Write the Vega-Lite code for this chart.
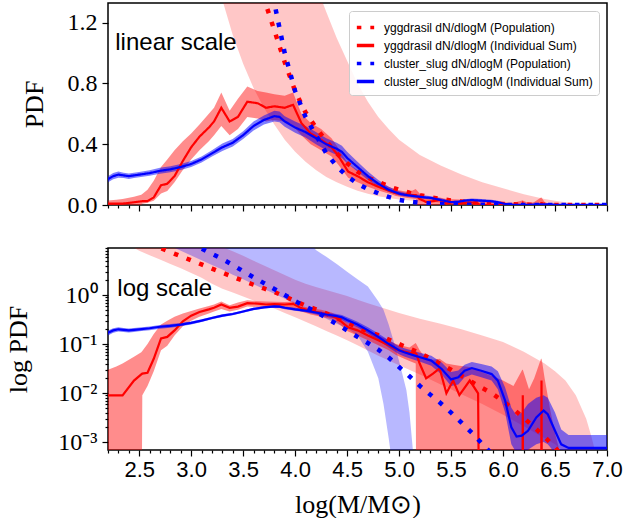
{
"$schema": "https://vega.github.io/schema/vega-lite/v6.json",
"padding": {"left": 5, "top": 2, "right": 5, "bottom": 0},
"config": {"view": {"stroke": "black", "strokeWidth": 1.5}, "axis": {"domain": false, "ticks": true, "grid": false, "tickColor": "black", "tickWidth": 1.2, "tickSize": 6, "labelColor": "black", "titleColor": "black", "titleFontWeight": "normal", "labelOverlap": false, "labelFlush": false, "labelBound": false}, "legend": {"rowPadding": 0, "symbolSize": 300, "symbolStrokeWidth": 3.5, "labelOffset": 8, "labelFontSize": 12, "labelFont": "Liberation Sans"}},
"datasets": {
"rband": [
{"x":2.3,"lo":13,"hi":40},{"x":2.4,"lo":10.5,"hi":40},{"x":2.5,"lo":8.0,"hi":40},{"x":2.6,"lo":6.5,"hi":40},{"x":2.7,"lo":5.3,"hi":40},{"x":2.8,"lo":4.3,"hi":40},{"x":2.9,"lo":3.5,"hi":40},{"x":3.0,"lo":2.8,"hi":20},{"x":3.1,"lo":2.25,"hi":15},{"x":3.2,"lo":1.7,"hi":11.5},{"x":3.3,"lo":1.35,"hi":9.5},{"x":3.4,"lo":1.12,"hi":7.8},{"x":3.5,"lo":0.93,"hi":6.3},{"x":3.6,"lo":0.77,"hi":5.0},{"x":3.7,"lo":0.64,"hi":4.0},{"x":3.8,"lo":0.53,"hi":3.2},{"x":3.9,"lo":0.43,"hi":2.55},{"x":4.0,"lo":0.35,"hi":2.05},{"x":4.1,"lo":0.285,"hi":1.7},{"x":4.2,"lo":0.23,"hi":1.45},{"x":4.3,"lo":0.185,"hi":1.27},{"x":4.4,"lo":0.15,"hi":1.1},{"x":4.5,"lo":0.12,"hi":0.95},{"x":4.6,"lo":0.094,"hi":0.8},{"x":4.7,"lo":0.074,"hi":0.68},{"x":4.8,"lo":0.058,"hi":0.58},{"x":4.9,"lo":0.046,"hi":0.5},{"x":5.0,"lo":0.037,"hi":0.43},{"x":5.2,"lo":0.024,"hi":0.33},{"x":5.4,"lo":0.015,"hi":0.26},{"x":5.6,"lo":0.0095,"hi":0.2},{"x":5.8,"lo":0.006,"hi":0.15},{"x":6.0,"lo":0.0036,"hi":0.11},{"x":6.2,"lo":0.0021,"hi":0.07},{"x":6.4,"lo":0.0012,"hi":0.04},{"x":6.5,"lo":0.0009,"hi":0.028},{"x":6.6,"lo":0.0006,"hi":0.018},{"x":6.7,"lo":0.00042,"hi":0.009},{"x":6.8,"lo":0.0003,"hi":0.003},{"x":6.85,"lo":0.00025,"hi":0.0013},{"x":6.9,"lo":0.0002,"hi":0.0005},{"x":7.0,"lo":0.00014,"hi":0.00015}],
"bband": [
{"x":2.8,"lo":10,"hi":40},{"x":2.9,"lo":8.0,"hi":40},{"x":3.0,"lo":6.4,"hi":40},{"x":3.1,"lo":5.1,"hi":40},{"x":3.2,"lo":4.1,"hi":40},{"x":3.3,"lo":3.3,"hi":40},{"x":3.4,"lo":2.6,"hi":40},{"x":3.5,"lo":2.1,"hi":40},{"x":3.6,"lo":1.65,"hi":40},{"x":3.7,"lo":1.33,"hi":40},{"x":3.8,"lo":1.06,"hi":40},{"x":3.9,"lo":0.84,"hi":40},{"x":4.0,"lo":0.66,"hi":40},{"x":4.1,"lo":0.53,"hi":14},{"x":4.15,"lo":0.47,"hi":11},{"x":4.2,"lo":0.42,"hi":8.3},{"x":4.3,"lo":0.33,"hi":6.0},{"x":4.4,"lo":0.26,"hi":4.3},{"x":4.5,"lo":0.21,"hi":3.0},{"x":4.6,"lo":0.15,"hi":2.1},{"x":4.7,"lo":0.07,"hi":1.5},{"x":4.8,"lo":0.02,"hi":0.75},{"x":4.85,"lo":0.006,"hi":0.5},{"x":4.9,"lo":0.0012,"hi":0.25},{"x":4.95,"lo":0.0002,"hi":0.11},{"x":5.0,"lo":0.000001,"hi":0.045},{"x":5.07,"lo":0.000001,"hi":0.0115},{"x":5.1,"lo":0.000001,"hi":0.004},{"x":5.13,"lo":0.000001,"hi":0.0008},{"x":5.15,"lo":0.000001,"hi":0.0002},{"x":5.17,"lo":0.000001,"hi":0.000002}],
"rsum": [
{"x":2.2,"y":0.009,"lo":0.000001,"hi":0.03},{"x":2.28,"y":0.009,"lo":0.000001,"hi":0.035},{"x":2.34,"y":0.009,"lo":0.000001,"hi":0.04},{"x":2.45,"y":0.018,"lo":0.000001,"hi":0.055},{"x":2.52,"y":0.024,"lo":0.000001,"hi":0.068},{"x":2.53,"y":0.025,"lo":0.009,"hi":0.072},{"x":2.58,"y":0.026,"lo":0.014,"hi":0.1},{"x":2.64,"y":0.05,"lo":0.028,"hi":0.16},{"x":2.71,"y":0.13,"lo":0.075,"hi":0.25},{"x":2.77,"y":0.14,"lo":0.092,"hi":0.3},{"x":2.84,"y":0.19,"lo":0.15,"hi":0.36},{"x":2.92,"y":0.29,"lo":0.23,"hi":0.42},{"x":3.0,"y":0.38,"lo":0.3,"hi":0.47},{"x":3.08,"y":0.45,"lo":0.36,"hi":0.53},{"x":3.17,"y":0.51,"lo":0.42,"hi":0.6},{"x":3.22,"y":0.55,"lo":0.46,"hi":0.64},{"x":3.29,"y":0.64,"lo":0.52,"hi":0.74},{"x":3.37,"y":0.55,"lo":0.46,"hi":0.62},{"x":3.45,"y":0.58,"lo":0.5,"hi":0.7},{"x":3.54,"y":0.68,"lo":0.58,"hi":0.78},{"x":3.64,"y":0.67,"lo":0.57,"hi":0.75},{"x":3.72,"y":0.64,"lo":0.55,"hi":0.74},{"x":3.8,"y":0.65,"lo":0.56,"hi":0.73},{"x":3.9,"y":0.64,"lo":0.55,"hi":0.72},{"x":3.98,"y":0.66,"lo":0.52,"hi":0.74},{"x":4.06,"y":0.54,"lo":0.46,"hi":0.6},{"x":4.15,"y":0.47,"lo":0.4,"hi":0.54},{"x":4.25,"y":0.43,"lo":0.36,"hi":0.5},{"x":4.35,"y":0.38,"lo":0.32,"hi":0.44},{"x":4.41,"y":0.33,"lo":0.27,"hi":0.38},{"x":4.51,"y":0.22,"lo":0.18,"hi":0.27},{"x":4.6,"y":0.19,"lo":0.15,"hi":0.23},{"x":4.7,"y":0.15,"lo":0.12,"hi":0.19},{"x":4.8,"y":0.12,"lo":0.095,"hi":0.15},{"x":4.9,"y":0.095,"lo":0.075,"hi":0.12},{"x":4.97,"y":0.078,"lo":0.06,"hi":0.1},{"x":5.05,"y":0.07,"lo":0.05,"hi":0.09},{"x":5.1,"y":0.066,"lo":0.045,"hi":0.085},{"x":5.16,"y":0.065,"lo":0.04,"hi":0.105},{"x":5.166,"y":0.063,"lo":0.000001,"hi":0.1},{"x":5.198,"y":0.04,"lo":0.000001,"hi":0.075},{"x":5.26,"y":0.02,"lo":0.000001,"hi":0.05},{"x":5.326,"y":0.025,"lo":0.000001,"hi":0.048},{"x":5.39,"y":0.032,"lo":0.000001,"hi":0.05},{"x":5.455,"y":0.0099,"lo":0.000001,"hi":0.04},{"x":5.52,"y":0.018,"lo":0.000001,"hi":0.038},{"x":5.58,"y":0.0091,"lo":0.000001,"hi":0.036},{"x":5.68,"y":0.018,"lo":0.000001,"hi":0.034},{"x":5.76,"y":0.0099,"lo":0.000001,"hi":0.03},{"x":5.775,"y":0.000001,"lo":0.000001,"hi":0.028},{"x":5.9,"y":0.000001,"lo":0.000001,"hi":0.022},{"x":6.0,"y":0.000001,"lo":0.000001,"hi":0.018},{"x":6.1,"y":0.000001,"lo":0.000001,"hi":0.014},{"x":6.185,"y":0.000001,"lo":0.000001,"hi":0.03},{"x":6.19,"y":0.009,"lo":0.000001,"hi":0.03},{"x":6.195,"y":0.000001,"lo":0.000001,"hi":0.028},{"x":6.25,"y":0.000001,"lo":0.000001,"hi":0.012},{"x":6.3,"y":0.000001,"lo":0.000001,"hi":0.02},{"x":6.365,"y":0.000001,"lo":0.000001,"hi":0.05},{"x":6.37,"y":0.018,"lo":0.000001,"hi":0.05},{"x":6.375,"y":0.000001,"lo":0.000001,"hi":0.045},{"x":6.4,"y":0.000001,"lo":0.000001,"hi":0.02},{"x":6.45,"y":0.000001,"lo":0.000001,"hi":0.005},{"x":6.5,"y":0.000001,"lo":0.000001,"hi":0.0015},{"x":6.55,"y":0.000001,"lo":0.000001,"hi":0.0006},{"x":6.6,"y":0.000001,"lo":0.000001,"hi":0.000001},{"x":7.0,"y":0.000001,"lo":0.000001,"hi":0.000001}],
"bsum": [
{"x":2.2,"y":0.17,"lo":0.15,"hi":0.19},{"x":2.25,"y":0.19,"lo":0.17,"hi":0.21},{"x":2.3,"y":0.2,"lo":0.18,"hi":0.22},{"x":2.35,"y":0.195,"lo":0.177,"hi":0.213},{"x":2.4,"y":0.19,"lo":0.172,"hi":0.208},{"x":2.45,"y":0.195,"lo":0.177,"hi":0.213},{"x":2.5,"y":0.2,"lo":0.182,"hi":0.218},{"x":2.6,"y":0.21,"lo":0.192,"hi":0.228},{"x":2.7,"y":0.225,"lo":0.205,"hi":0.245},{"x":2.8,"y":0.235,"lo":0.215,"hi":0.255},{"x":2.9,"y":0.25,"lo":0.23,"hi":0.27},{"x":3.0,"y":0.27,"lo":0.25,"hi":0.29},{"x":3.1,"y":0.3,"lo":0.28,"hi":0.32},{"x":3.2,"y":0.34,"lo":0.32,"hi":0.36},{"x":3.3,"y":0.38,"lo":0.355,"hi":0.405},{"x":3.4,"y":0.41,"lo":0.385,"hi":0.435},{"x":3.5,"y":0.46,"lo":0.435,"hi":0.485},{"x":3.6,"y":0.52,"lo":0.49,"hi":0.55},{"x":3.7,"y":0.56,"lo":0.53,"hi":0.59},{"x":3.8,"y":0.585,"lo":0.55,"hi":0.62},{"x":3.85,"y":0.58,"lo":0.545,"hi":0.615},{"x":3.9,"y":0.55,"lo":0.515,"hi":0.585},{"x":4.0,"y":0.51,"lo":0.475,"hi":0.55},{"x":4.1,"y":0.48,"lo":0.445,"hi":0.52},{"x":4.2,"y":0.44,"lo":0.4,"hi":0.48},{"x":4.3,"y":0.4,"lo":0.36,"hi":0.44},{"x":4.4,"y":0.37,"lo":0.33,"hi":0.41},{"x":4.45,"y":0.35,"lo":0.31,"hi":0.39},{"x":4.5,"y":0.31,"lo":0.275,"hi":0.35},{"x":4.6,"y":0.25,"lo":0.22,"hi":0.285},{"x":4.7,"y":0.19,"lo":0.165,"hi":0.22},{"x":4.8,"y":0.14,"lo":0.12,"hi":0.165},{"x":4.9,"y":0.1,"lo":0.085,"hi":0.12},{"x":5.0,"y":0.075,"lo":0.062,"hi":0.09},{"x":5.05,"y":0.068,"lo":0.056,"hi":0.082},{"x":5.15,"y":0.058,"lo":0.047,"hi":0.071},{"x":5.21,"y":0.053,"lo":0.043,"hi":0.066},{"x":5.31,"y":0.046,"lo":0.036,"hi":0.058},{"x":5.41,"y":0.031,"lo":0.024,"hi":0.042},{"x":5.5,"y":0.019,"lo":0.014,"hi":0.027},{"x":5.57,"y":0.021,"lo":0.015,"hi":0.029},{"x":5.63,"y":0.0286,"lo":0.021,"hi":0.038},{"x":5.7,"y":0.0324,"lo":0.024,"hi":0.043},{"x":5.79,"y":0.0286,"lo":0.021,"hi":0.039},{"x":5.89,"y":0.0244,"lo":0.018,"hi":0.035},{"x":5.95,"y":0.0179,"lo":0.012,"hi":0.028},{"x":6.02,"y":0.007,"lo":0.004,"hi":0.013},{"x":6.08,"y":0.002,"lo":0.0009,"hi":0.005},{"x":6.13,"y":0.0013,"lo":0.0006,"hi":0.0035},{"x":6.18,"y":0.00135,"lo":0.0006,"hi":0.004},{"x":6.24,"y":0.0017,"lo":0.0007,"hi":0.006},{"x":6.32,"y":0.0032,"lo":0.0009,"hi":0.008},{"x":6.39,"y":0.0044,"lo":0.001,"hi":0.009},{"x":6.43,"y":0.0037,"lo":0.0009,"hi":0.008},{"x":6.5,"y":0.0017,"lo":0.0006,"hi":0.004},{"x":6.56,"y":0.0009,"lo":0.0005,"hi":0.0018},{"x":6.63,"y":0.00076,"lo":0.0005,"hi":0.0014},{"x":6.8,"y":0.00076,"lo":0.0005,"hi":0.0014},{"x":7.0,"y":0.00076,"lo":0.0005,"hi":0.0014}],
"rpop": [
{"x":2.6,"y":12},{"x":2.7,"y":9.2},{"x":2.8,"y":7.5},{"x":2.9,"y":6.2},{"x":3.0,"y":5.1},{"x":3.1,"y":4.2},{"x":3.2,"y":3.45},{"x":3.3,"y":2.85},{"x":3.4,"y":2.35},{"x":3.5,"y":1.95},{"x":3.6,"y":1.62},{"x":3.7,"y":1.36},{"x":3.8,"y":1.15},{"x":3.9,"y":0.94},{"x":4.0,"y":0.75},{"x":4.1,"y":0.61},{"x":4.2,"y":0.51},{"x":4.3,"y":0.42},{"x":4.4,"y":0.34},{"x":4.5,"y":0.275},{"x":4.6,"y":0.22},{"x":4.7,"y":0.18},{"x":4.8,"y":0.152},{"x":4.9,"y":0.123},{"x":5.0,"y":0.1},{"x":5.1,"y":0.081},{"x":5.2,"y":0.065},{"x":5.3,"y":0.051},{"x":5.4,"y":0.039},{"x":5.5,"y":0.03},{"x":5.6,"y":0.0225},{"x":5.7,"y":0.0168},{"x":5.8,"y":0.0127},{"x":5.9,"y":0.0097},{"x":6.0,"y":0.0068},{"x":6.1,"y":0.0047},{"x":6.2,"y":0.0031},{"x":6.3,"y":0.002},{"x":6.4,"y":0.00128},{"x":6.5,"y":0.00078},{"x":6.6,"y":0.00045},{"x":6.7,"y":0.00025},{"x":6.8,"y":0.00013},{"x":6.9,"y":0.00007},{"x":7.0,"y":0.00004}],
"bpop": [
{"x":3.0,"y":13},{"x":3.1,"y":8.9},{"x":3.2,"y":6.9},{"x":3.3,"y":5.4},{"x":3.4,"y":4.1},{"x":3.5,"y":3.05},{"x":3.6,"y":2.3},{"x":3.7,"y":1.75},{"x":3.8,"y":1.33},{"x":3.9,"y":1.0},{"x":4.0,"y":0.75},{"x":4.1,"y":0.58},{"x":4.2,"y":0.46},{"x":4.3,"y":0.34},{"x":4.4,"y":0.255},{"x":4.5,"y":0.19},{"x":4.6,"y":0.14},{"x":4.7,"y":0.105},{"x":4.8,"y":0.077},{"x":4.9,"y":0.053},{"x":5.0,"y":0.034},{"x":5.1,"y":0.022},{"x":5.2,"y":0.014},{"x":5.3,"y":0.0093},{"x":5.4,"y":0.0062},{"x":5.5,"y":0.004},{"x":5.6,"y":0.0025},{"x":5.7,"y":0.00155},{"x":5.8,"y":0.00092},{"x":5.9,"y":0.00055},{"x":6.0,"y":0.0003},{"x":6.2,"y":0.0001},{"x":6.5,"y":0.00003},{"x":7.0,"y":0.00001}],
"notes": [{"panel": "linear", "label": "linear scale"}, {"panel": "log", "label": "log scale"}]
},
"spacing": 17,
"resolve": {"scale": {"x": "independent", "y": "independent", "color": "independent", "strokeDash": "independent"}, "legend": {"color": "independent", "strokeDash": "independent"}},
"vconcat": [
{
"width": 499, "height": 202,
"layer": [
{"data": {"name": "rband"}, "mark": {"type": "area", "color": "#ff0000", "opacity": 0.22, "clip": true}, "encoding": {"x": {"field": "x", "type": "quantitative", "title": null, "scale": {"domain": [2.2, 7.0], "nice": false, "zero": false}, "axis": {"values": [2.2,2.3,2.4,2.5,2.6,2.7,2.8,2.9,3.0,3.1,3.2,3.3,3.4,3.5,3.6,3.7,3.8,3.9,4.0,4.1,4.2,4.3,4.4,4.5,4.6,4.7,4.8,4.9,5.0,5.1,5.2,5.3,5.4,5.5,5.6,5.7,5.8,5.9,6.0,6.1,6.2,6.3,6.4,6.5,6.6,6.7,6.8,6.9,7.0], "labels": false, "title": null, "tickDash": {"condition": {"test": "abs(datum.value*2 - round(datum.value*2)) < 0.01", "value": [10, 0]}, "value": [3, 20]}}}, "y": {"field": "lo", "type": "quantitative", "title": "PDF", "scale": {"domain": [0, 1.33], "nice": false, "zero": false}, "axis": {"values": [0,0.1,0.2,0.3,0.4,0.5,0.6,0.7,0.8,0.9,1.0,1.1,1.2,1.3], "labelExpr": "abs(datum.value/0.4 - round(datum.value/0.4)) < 0.01 ? format(datum.value, '.1f') : ''", "labelFont": "Liberation Serif", "labelFontSize": 24, "labelPadding": 5, "titleFont": "Liberation Serif", "titleFontSize": 26, "titlePadding": 20, "tickDash": {"condition": {"test": "abs(datum.value/0.4 - round(datum.value/0.4)) < 0.01", "value": [10, 0]}, "value": [3, 20]}}}, "y2": {"field": "hi"}}},
{"data": {"name": "rsum"}, "mark": {"type": "area", "color": "#ff0000", "opacity": 0.45, "clip": true}, "encoding": {"x": {"field": "x", "type": "quantitative", "title": null, "scale": {"domain": [2.2, 7.0], "nice": false, "zero": false}, "axis": {"values": [2.2,2.3,2.4,2.5,2.6,2.7,2.8,2.9,3.0,3.1,3.2,3.3,3.4,3.5,3.6,3.7,3.8,3.9,4.0,4.1,4.2,4.3,4.4,4.5,4.6,4.7,4.8,4.9,5.0,5.1,5.2,5.3,5.4,5.5,5.6,5.7,5.8,5.9,6.0,6.1,6.2,6.3,6.4,6.5,6.6,6.7,6.8,6.9,7.0], "labels": false, "title": null, "tickDash": {"condition": {"test": "abs(datum.value*2 - round(datum.value*2)) < 0.01", "value": [10, 0]}, "value": [3, 20]}}}, "y": {"field": "lo", "type": "quantitative", "title": "PDF"}, "y2": {"field": "hi"}}},
{"data": {"name": "bsum"}, "mark": {"type": "area", "color": "#0000ff", "opacity": 0.5, "clip": true}, "encoding": {"x": {"field": "x", "type": "quantitative", "title": null, "scale": {"domain": [2.2, 7.0], "nice": false, "zero": false}, "axis": {"values": [2.2,2.3,2.4,2.5,2.6,2.7,2.8,2.9,3.0,3.1,3.2,3.3,3.4,3.5,3.6,3.7,3.8,3.9,4.0,4.1,4.2,4.3,4.4,4.5,4.6,4.7,4.8,4.9,5.0,5.1,5.2,5.3,5.4,5.5,5.6,5.7,5.8,5.9,6.0,6.1,6.2,6.3,6.4,6.5,6.6,6.7,6.8,6.9,7.0], "labels": false, "title": null, "tickDash": {"condition": {"test": "abs(datum.value*2 - round(datum.value*2)) < 0.01", "value": [10, 0]}, "value": [3, 20]}}}, "y": {"field": "lo", "type": "quantitative", "title": "PDF"}, "y2": {"field": "hi"}}},
{"data": {"name": "rsum"}, "mark": {"type": "line", "strokeWidth": 2.2, "clip": true}, "encoding": {"x": {"field": "x", "type": "quantitative", "title": null, "scale": {"domain": [2.2, 7.0], "nice": false, "zero": false}, "axis": {"values": [2.2,2.3,2.4,2.5,2.6,2.7,2.8,2.9,3.0,3.1,3.2,3.3,3.4,3.5,3.6,3.7,3.8,3.9,4.0,4.1,4.2,4.3,4.4,4.5,4.6,4.7,4.8,4.9,5.0,5.1,5.2,5.3,5.4,5.5,5.6,5.7,5.8,5.9,6.0,6.1,6.2,6.3,6.4,6.5,6.6,6.7,6.8,6.9,7.0], "labels": false, "title": null, "tickDash": {"condition": {"test": "abs(datum.value*2 - round(datum.value*2)) < 0.01", "value": [10, 0]}, "value": [3, 20]}}}, "y": {"field": "y", "type": "quantitative", "title": "PDF"}, "color": {"datum": "yggdrasil dN/dlogM (Individual Sum)", "scale": {"domain": ["yggdrasil dN/dlogM (Population)", "yggdrasil dN/dlogM (Individual Sum)", "cluster_slug dN/dlogM (Population)", "cluster_slug dN/dlogM (Individual Sum)"], "range": ["#ff0000", "#ff0000", "#0000ff", "#0000ff"]}, "legend": {"orient": "top-right", "title": null, "offset": 8, "labelLimit": 400, "labelColor": "black", "fillColor": "rgba(255,255,255,0.85)", "strokeColor": "#cccccc", "padding": 6, "cornerRadius": 3}}, "strokeDash": {"datum": "yggdrasil dN/dlogM (Individual Sum)", "scale": {"domain": ["yggdrasil dN/dlogM (Population)", "yggdrasil dN/dlogM (Individual Sum)", "cluster_slug dN/dlogM (Population)", "cluster_slug dN/dlogM (Individual Sum)"], "range": [[4.5, 9], [1, 0], [4.5, 9], [1, 0]]}, "legend": {"orient": "top-right", "title": null, "offset": 8, "labelLimit": 400, "labelColor": "black", "fillColor": "rgba(255,255,255,0.85)", "strokeColor": "#cccccc", "padding": 6, "cornerRadius": 3}}}},
{"data": {"name": "rpop"}, "mark": {"type": "line", "strokeWidth": 4.5, "clip": true}, "encoding": {"x": {"field": "x", "type": "quantitative", "title": null, "scale": {"domain": [2.2, 7.0], "nice": false, "zero": false}, "axis": {"values": [2.2,2.3,2.4,2.5,2.6,2.7,2.8,2.9,3.0,3.1,3.2,3.3,3.4,3.5,3.6,3.7,3.8,3.9,4.0,4.1,4.2,4.3,4.4,4.5,4.6,4.7,4.8,4.9,5.0,5.1,5.2,5.3,5.4,5.5,5.6,5.7,5.8,5.9,6.0,6.1,6.2,6.3,6.4,6.5,6.6,6.7,6.8,6.9,7.0], "labels": false, "title": null, "tickDash": {"condition": {"test": "abs(datum.value*2 - round(datum.value*2)) < 0.01", "value": [10, 0]}, "value": [3, 20]}}}, "y": {"field": "y", "type": "quantitative", "title": "PDF"}, "color": {"datum": "yggdrasil dN/dlogM (Population)"}, "strokeDash": {"datum": "yggdrasil dN/dlogM (Population)"}}},
{"data": {"name": "bsum"}, "mark": {"type": "line", "strokeWidth": 2.2, "clip": true}, "encoding": {"x": {"field": "x", "type": "quantitative", "title": null, "scale": {"domain": [2.2, 7.0], "nice": false, "zero": false}, "axis": {"values": [2.2,2.3,2.4,2.5,2.6,2.7,2.8,2.9,3.0,3.1,3.2,3.3,3.4,3.5,3.6,3.7,3.8,3.9,4.0,4.1,4.2,4.3,4.4,4.5,4.6,4.7,4.8,4.9,5.0,5.1,5.2,5.3,5.4,5.5,5.6,5.7,5.8,5.9,6.0,6.1,6.2,6.3,6.4,6.5,6.6,6.7,6.8,6.9,7.0], "labels": false, "title": null, "tickDash": {"condition": {"test": "abs(datum.value*2 - round(datum.value*2)) < 0.01", "value": [10, 0]}, "value": [3, 20]}}}, "y": {"field": "y", "type": "quantitative", "title": "PDF"}, "color": {"datum": "cluster_slug dN/dlogM (Individual Sum)"}, "strokeDash": {"datum": "cluster_slug dN/dlogM (Individual Sum)"}}},
{"data": {"name": "bpop"}, "mark": {"type": "line", "strokeWidth": 4.5, "clip": true}, "encoding": {"x": {"field": "x", "type": "quantitative", "title": null, "scale": {"domain": [2.2, 7.0], "nice": false, "zero": false}, "axis": {"values": [2.2,2.3,2.4,2.5,2.6,2.7,2.8,2.9,3.0,3.1,3.2,3.3,3.4,3.5,3.6,3.7,3.8,3.9,4.0,4.1,4.2,4.3,4.4,4.5,4.6,4.7,4.8,4.9,5.0,5.1,5.2,5.3,5.4,5.5,5.6,5.7,5.8,5.9,6.0,6.1,6.2,6.3,6.4,6.5,6.6,6.7,6.8,6.9,7.0], "labels": false, "title": null, "tickDash": {"condition": {"test": "abs(datum.value*2 - round(datum.value*2)) < 0.01", "value": [10, 0]}, "value": [3, 20]}}}, "y": {"field": "y", "type": "quantitative", "title": "PDF"}, "color": {"datum": "cluster_slug dN/dlogM (Population)"}, "strokeDash": {"datum": "cluster_slug dN/dlogM (Population)"}}},
{"data": {"name": "notes"}, "transform": [{"filter": "datum.panel == 'linear'"}], "mark": {"type": "text", "align": "left", "baseline": "alphabetic", "font": "Liberation Sans", "fontSize": 24, "color": "black"}, "encoding": {"x": {"datum": 2.27, "type": "quantitative", "title": null, "scale": {"domain": [2.2, 7.0], "nice": false, "zero": false}, "axis": {"values": [2.2,2.3,2.4,2.5,2.6,2.7,2.8,2.9,3.0,3.1,3.2,3.3,3.4,3.5,3.6,3.7,3.8,3.9,4.0,4.1,4.2,4.3,4.4,4.5,4.6,4.7,4.8,4.9,5.0,5.1,5.2,5.3,5.4,5.5,5.6,5.7,5.8,5.9,6.0,6.1,6.2,6.3,6.4,6.5,6.6,6.7,6.8,6.9,7.0], "labels": false, "title": null, "tickDash": {"condition": {"test": "abs(datum.value*2 - round(datum.value*2)) < 0.01", "value": [10, 0]}, "value": [3, 20]}}}, "y": {"datum": 1.02, "type": "quantitative", "title": "PDF"}, "text": {"field": "label"}}}
]
},
{
"width": 499, "height": 202,
"layer": [
{"data": {"name": "rband"}, "mark": {"type": "area", "color": "#ff0000", "opacity": 0.22, "clip": true}, "encoding": {"x": {"field": "x", "type": "quantitative", "title": "log(M/M⊙)", "scale": {"domain": [2.2, 7.0], "nice": false, "zero": false}, "axis": {"values": [2.2,2.3,2.4,2.5,2.6,2.7,2.8,2.9,3.0,3.1,3.2,3.3,3.4,3.5,3.6,3.7,3.8,3.9,4.0,4.1,4.2,4.3,4.4,4.5,4.6,4.7,4.8,4.9,5.0,5.1,5.2,5.3,5.4,5.5,5.6,5.7,5.8,5.9,6.0,6.1,6.2,6.3,6.4,6.5,6.6,6.7,6.8,6.9,7.0], "labelExpr": "abs(datum.value*2 - round(datum.value*2)) < 0.01 ? format(datum.value, '.1f') : ''", "labelFont": "Liberation Sans", "labelFontSize": 22, "labelPadding": 3, "titleFont": "Liberation Serif", "titleFontSize": 26, "titlePadding": 11, "tickDash": {"condition": {"test": "abs(datum.value*2 - round(datum.value*2)) < 0.01", "value": [10, 0]}, "value": [3, 20]}}}, "y": {"field": "lo", "type": "quantitative", "title": "log PDF", "scale": {"type": "log", "domain": [0.00069, 9.1], "nice": false}, "axis": {"values": [0.001,0.002,0.003,0.004,0.005,0.006,0.007,0.008,0.009,0.01,0.02,0.03,0.04,0.05,0.06,0.07,0.08,0.09,0.1,0.2,0.3,0.4,0.5,0.6,0.7,0.8,0.9,1,2,3,4,5,6,7,8,9], "labelExpr": "datum.value == 1 ? '10⁰' : datum.value == 0.1 ? '10⁻¹' : datum.value == 0.01 ? '10⁻²' : datum.value == 0.001 ? '10⁻³' : ''", "labelFont": "Liberation Serif", "labelFontSize": 24, "labelPadding": 5, "titleFont": "Liberation Serif", "titleFontSize": 26, "titlePadding": 26, "tickDash": {"condition": {"test": "indexof([1, 0.1, 0.01, 0.001], datum.value) >= 0", "value": [10, 0]}, "value": [3, 20]}}}, "y2": {"field": "hi"}}},
{"data": {"name": "bband"}, "mark": {"type": "area", "color": "#0000ff", "opacity": 0.28, "clip": true}, "encoding": {"x": {"field": "x", "type": "quantitative", "title": "log(M/M⊙)", "scale": {"domain": [2.2, 7.0], "nice": false, "zero": false}, "axis": {"values": [2.2,2.3,2.4,2.5,2.6,2.7,2.8,2.9,3.0,3.1,3.2,3.3,3.4,3.5,3.6,3.7,3.8,3.9,4.0,4.1,4.2,4.3,4.4,4.5,4.6,4.7,4.8,4.9,5.0,5.1,5.2,5.3,5.4,5.5,5.6,5.7,5.8,5.9,6.0,6.1,6.2,6.3,6.4,6.5,6.6,6.7,6.8,6.9,7.0], "labelExpr": "abs(datum.value*2 - round(datum.value*2)) < 0.01 ? format(datum.value, '.1f') : ''", "labelFont": "Liberation Sans", "labelFontSize": 22, "labelPadding": 3, "titleFont": "Liberation Serif", "titleFontSize": 26, "titlePadding": 11, "tickDash": {"condition": {"test": "abs(datum.value*2 - round(datum.value*2)) < 0.01", "value": [10, 0]}, "value": [3, 20]}}}, "y": {"field": "lo", "type": "quantitative", "title": "log PDF"}, "y2": {"field": "hi"}}},
{"data": {"name": "rsum"}, "mark": {"type": "area", "color": "#ff0000", "opacity": 0.45, "clip": true}, "encoding": {"x": {"field": "x", "type": "quantitative", "title": "log(M/M⊙)", "scale": {"domain": [2.2, 7.0], "nice": false, "zero": false}, "axis": {"values": [2.2,2.3,2.4,2.5,2.6,2.7,2.8,2.9,3.0,3.1,3.2,3.3,3.4,3.5,3.6,3.7,3.8,3.9,4.0,4.1,4.2,4.3,4.4,4.5,4.6,4.7,4.8,4.9,5.0,5.1,5.2,5.3,5.4,5.5,5.6,5.7,5.8,5.9,6.0,6.1,6.2,6.3,6.4,6.5,6.6,6.7,6.8,6.9,7.0], "labelExpr": "abs(datum.value*2 - round(datum.value*2)) < 0.01 ? format(datum.value, '.1f') : ''", "labelFont": "Liberation Sans", "labelFontSize": 22, "labelPadding": 3, "titleFont": "Liberation Serif", "titleFontSize": 26, "titlePadding": 11, "tickDash": {"condition": {"test": "abs(datum.value*2 - round(datum.value*2)) < 0.01", "value": [10, 0]}, "value": [3, 20]}}}, "y": {"field": "lo", "type": "quantitative", "title": "log PDF"}, "y2": {"field": "hi"}}},
{"data": {"name": "bsum"}, "mark": {"type": "area", "color": "#0000ff", "opacity": 0.5, "clip": true}, "encoding": {"x": {"field": "x", "type": "quantitative", "title": "log(M/M⊙)", "scale": {"domain": [2.2, 7.0], "nice": false, "zero": false}, "axis": {"values": [2.2,2.3,2.4,2.5,2.6,2.7,2.8,2.9,3.0,3.1,3.2,3.3,3.4,3.5,3.6,3.7,3.8,3.9,4.0,4.1,4.2,4.3,4.4,4.5,4.6,4.7,4.8,4.9,5.0,5.1,5.2,5.3,5.4,5.5,5.6,5.7,5.8,5.9,6.0,6.1,6.2,6.3,6.4,6.5,6.6,6.7,6.8,6.9,7.0], "labelExpr": "abs(datum.value*2 - round(datum.value*2)) < 0.01 ? format(datum.value, '.1f') : ''", "labelFont": "Liberation Sans", "labelFontSize": 22, "labelPadding": 3, "titleFont": "Liberation Serif", "titleFontSize": 26, "titlePadding": 11, "tickDash": {"condition": {"test": "abs(datum.value*2 - round(datum.value*2)) < 0.01", "value": [10, 0]}, "value": [3, 20]}}}, "y": {"field": "lo", "type": "quantitative", "title": "log PDF"}, "y2": {"field": "hi"}}},
{"data": {"name": "rsum"}, "mark": {"type": "line", "color": "#ff0000", "strokeWidth": 2.2, "clip": true}, "encoding": {"x": {"field": "x", "type": "quantitative", "title": "log(M/M⊙)", "scale": {"domain": [2.2, 7.0], "nice": false, "zero": false}, "axis": {"values": [2.2,2.3,2.4,2.5,2.6,2.7,2.8,2.9,3.0,3.1,3.2,3.3,3.4,3.5,3.6,3.7,3.8,3.9,4.0,4.1,4.2,4.3,4.4,4.5,4.6,4.7,4.8,4.9,5.0,5.1,5.2,5.3,5.4,5.5,5.6,5.7,5.8,5.9,6.0,6.1,6.2,6.3,6.4,6.5,6.6,6.7,6.8,6.9,7.0], "labelExpr": "abs(datum.value*2 - round(datum.value*2)) < 0.01 ? format(datum.value, '.1f') : ''", "labelFont": "Liberation Sans", "labelFontSize": 22, "labelPadding": 3, "titleFont": "Liberation Serif", "titleFontSize": 26, "titlePadding": 11, "tickDash": {"condition": {"test": "abs(datum.value*2 - round(datum.value*2)) < 0.01", "value": [10, 0]}, "value": [3, 20]}}}, "y": {"field": "y", "type": "quantitative", "title": "log PDF"}}},
{"data": {"name": "rpop"}, "mark": {"type": "line", "color": "#ff0000", "strokeWidth": 4.5, "strokeDash": [4.5, 9], "clip": true}, "encoding": {"x": {"field": "x", "type": "quantitative", "title": "log(M/M⊙)", "scale": {"domain": [2.2, 7.0], "nice": false, "zero": false}, "axis": {"values": [2.2,2.3,2.4,2.5,2.6,2.7,2.8,2.9,3.0,3.1,3.2,3.3,3.4,3.5,3.6,3.7,3.8,3.9,4.0,4.1,4.2,4.3,4.4,4.5,4.6,4.7,4.8,4.9,5.0,5.1,5.2,5.3,5.4,5.5,5.6,5.7,5.8,5.9,6.0,6.1,6.2,6.3,6.4,6.5,6.6,6.7,6.8,6.9,7.0], "labelExpr": "abs(datum.value*2 - round(datum.value*2)) < 0.01 ? format(datum.value, '.1f') : ''", "labelFont": "Liberation Sans", "labelFontSize": 22, "labelPadding": 3, "titleFont": "Liberation Serif", "titleFontSize": 26, "titlePadding": 11, "tickDash": {"condition": {"test": "abs(datum.value*2 - round(datum.value*2)) < 0.01", "value": [10, 0]}, "value": [3, 20]}}}, "y": {"field": "y", "type": "quantitative", "title": "log PDF"}}},
{"data": {"name": "bsum"}, "mark": {"type": "line", "color": "#0000ff", "strokeWidth": 2.2, "clip": true}, "encoding": {"x": {"field": "x", "type": "quantitative", "title": "log(M/M⊙)", "scale": {"domain": [2.2, 7.0], "nice": false, "zero": false}, "axis": {"values": [2.2,2.3,2.4,2.5,2.6,2.7,2.8,2.9,3.0,3.1,3.2,3.3,3.4,3.5,3.6,3.7,3.8,3.9,4.0,4.1,4.2,4.3,4.4,4.5,4.6,4.7,4.8,4.9,5.0,5.1,5.2,5.3,5.4,5.5,5.6,5.7,5.8,5.9,6.0,6.1,6.2,6.3,6.4,6.5,6.6,6.7,6.8,6.9,7.0], "labelExpr": "abs(datum.value*2 - round(datum.value*2)) < 0.01 ? format(datum.value, '.1f') : ''", "labelFont": "Liberation Sans", "labelFontSize": 22, "labelPadding": 3, "titleFont": "Liberation Serif", "titleFontSize": 26, "titlePadding": 11, "tickDash": {"condition": {"test": "abs(datum.value*2 - round(datum.value*2)) < 0.01", "value": [10, 0]}, "value": [3, 20]}}}, "y": {"field": "y", "type": "quantitative", "title": "log PDF"}}},
{"data": {"name": "bpop"}, "mark": {"type": "line", "color": "#0000ff", "strokeWidth": 4.5, "strokeDash": [4.5, 9], "clip": true}, "encoding": {"x": {"field": "x", "type": "quantitative", "title": "log(M/M⊙)", "scale": {"domain": [2.2, 7.0], "nice": false, "zero": false}, "axis": {"values": [2.2,2.3,2.4,2.5,2.6,2.7,2.8,2.9,3.0,3.1,3.2,3.3,3.4,3.5,3.6,3.7,3.8,3.9,4.0,4.1,4.2,4.3,4.4,4.5,4.6,4.7,4.8,4.9,5.0,5.1,5.2,5.3,5.4,5.5,5.6,5.7,5.8,5.9,6.0,6.1,6.2,6.3,6.4,6.5,6.6,6.7,6.8,6.9,7.0], "labelExpr": "abs(datum.value*2 - round(datum.value*2)) < 0.01 ? format(datum.value, '.1f') : ''", "labelFont": "Liberation Sans", "labelFontSize": 22, "labelPadding": 3, "titleFont": "Liberation Serif", "titleFontSize": 26, "titlePadding": 11, "tickDash": {"condition": {"test": "abs(datum.value*2 - round(datum.value*2)) < 0.01", "value": [10, 0]}, "value": [3, 20]}}}, "y": {"field": "y", "type": "quantitative", "title": "log PDF"}}},
{"data": {"name": "notes"}, "transform": [{"filter": "datum.panel == 'log'"}], "mark": {"type": "text", "align": "left", "baseline": "alphabetic", "font": "Liberation Sans", "fontSize": 24, "color": "black"}, "encoding": {"x": {"datum": 2.29, "type": "quantitative", "title": "log(M/M⊙)", "scale": {"domain": [2.2, 7.0], "nice": false, "zero": false}, "axis": {"values": [2.2,2.3,2.4,2.5,2.6,2.7,2.8,2.9,3.0,3.1,3.2,3.3,3.4,3.5,3.6,3.7,3.8,3.9,4.0,4.1,4.2,4.3,4.4,4.5,4.6,4.7,4.8,4.9,5.0,5.1,5.2,5.3,5.4,5.5,5.6,5.7,5.8,5.9,6.0,6.1,6.2,6.3,6.4,6.5,6.6,6.7,6.8,6.9,7.0], "labelExpr": "abs(datum.value*2 - round(datum.value*2)) < 0.01 ? format(datum.value, '.1f') : ''", "labelFont": "Liberation Sans", "labelFontSize": 22, "labelPadding": 3, "titleFont": "Liberation Serif", "titleFontSize": 26, "titlePadding": 11, "tickDash": {"condition": {"test": "abs(datum.value*2 - round(datum.value*2)) < 0.01", "value": [10, 0]}, "value": [3, 20]}}}, "y": {"datum": 0.95, "type": "quantitative", "title": "log PDF"}, "text": {"field": "label"}}}
]
}
]
}
